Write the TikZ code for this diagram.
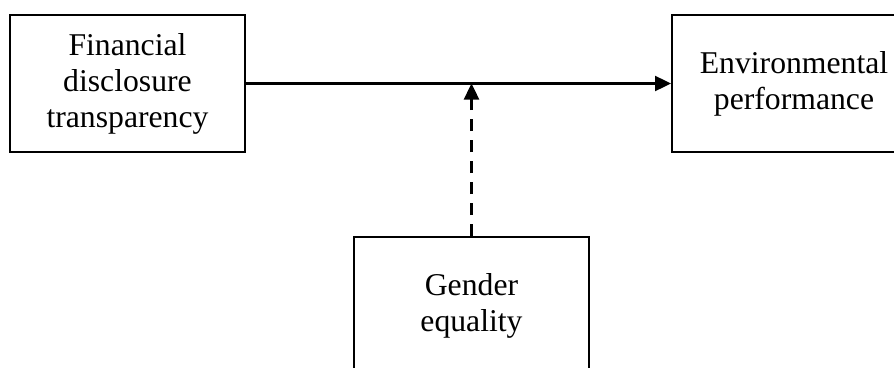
\documentclass[tikz,border=0pt]{standalone}
\usepackage{fontspec}
\setmainfont{Liberation Serif}
\usetikzlibrary{
  arrows.meta,
  calc
}
\tikzset{
  varbox/.style={
    draw, line width=2pt, align=center,
    minimum width=235pt, minimum height=137pt,
    inner sep=0pt,
    font=\fontsize{31.7}{36}\selectfont
  },
  effect/.style={
    line width=2.4pt,
    -{Triangle[length=16pt,width=15pt]}
  },
  moderate/.style={
    effect, dash pattern=on 12pt off 9pt
  }
}

\begin{document}
\begin{tikzpicture}[x=1pt,y=-1pt]
\useasboundingbox (0,0) rectangle (894,367);
\node [varbox] (fdt) at (127.5,83.5) {Financial\\disclosure\\transparency};
\node [varbox, minimum width=244pt] (envp) at (794,83.5) {Environmental\\performance};
\node [varbox] (geq) at (471.5,305.5) {Gender\\equality};
\coordinate (mid) at (geq.north |- fdt.east);
\draw [effect] (fdt.east) -- (envp.west);
\draw [moderate] (geq.north) -- (mid);
\end{tikzpicture}
\end{document}
